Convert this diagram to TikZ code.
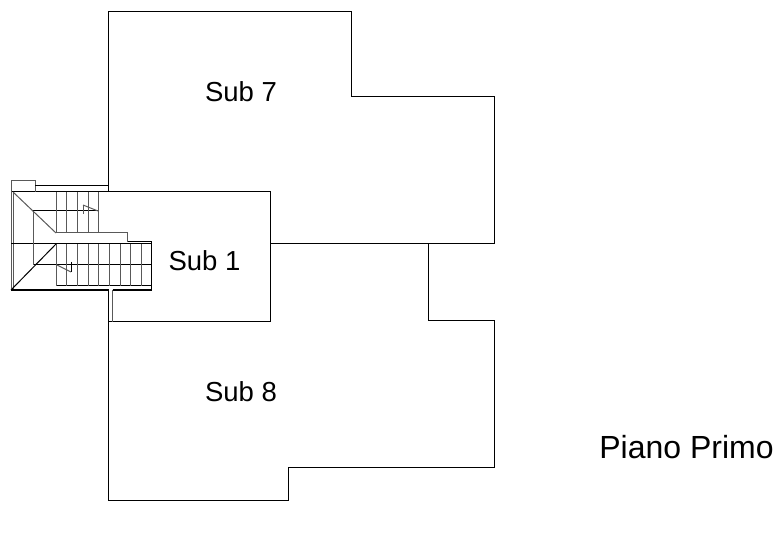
\documentclass[tikz,border=0pt]{standalone}
\usepackage{fontspec}
\setmainfont{Liberation Sans}
\tikzset{wall/.style={black,line width=1pt},
 thin line/.style={black!65,line width=1pt},
 sublabel/.style={font=\fontsize{27.5}{30}\selectfont,inner sep=0pt,anchor=base},
 titlelabel/.style={font=\fontsize{32}{34}\selectfont,inner sep=0pt,anchor=base}}
\begin{document}
\begin{tikzpicture}[x=1pt,y=-1pt]
\useasboundingbox (0,0) rectangle (778,534);
\draw[wall] (108.5,192) -- (108.5,11.5) -- (351.5,11.5) -- (351.5,96.5) -- (494.5,96.5) -- (494.5,243.5) -- (271,243.5);
\draw[wall] (428,243.5) -- (428,320.5) -- (494.5,320.5) -- (494.5,467.5) -- (288,467.5) -- (288,500.5) -- (108.5,500.5) -- (108.5,290);
\draw[wall] (11,192) -- (270.5,192) -- (270.5,321.5) -- (108.5,321.5);
\draw[thin line] (112.5,290) -- (112.5,321.5);
% stair
\draw[thin line] (11,192) -- (11,181) -- (35,181) -- (35,192);
\draw[wall] (35,186) -- (108.5,186);
\draw[thin line] (11,192) -- (11,290);
\draw[thin line] (13.5,192) -- (13.5,290);
\draw[wall] (11,290) -- (108.5,290);
\draw[wall] (112.5,290) -- (151,290) -- (151,242) -- (127,242);
\draw[wall] (56,286) -- (151,286);
\draw[thin line] (56,233) -- (127,233) -- (127,242);
\draw[wall] (11,244) -- (151,244);
\draw[wall] (33,211) -- (98.5,211);
\draw[wall] (33.5,265) -- (151,265);
\draw[thin line] (33.5,211) -- (33.5,265);
\foreach \x in {56,66.5,77.5,88,98.5}{
 \draw[thin line] (\x,192) -- (\x,233);
 \draw[thin line] (\x,244) -- (\x,286);}
\foreach \x in {109,120,130,141}{\draw[thin line] (\x,244) -- (\x,286);}
\draw[thin line] (13,192) -- (56,233);
\draw[wall] (11,290) -- (56,244);
\draw[thin line] (83,205) -- (83,214);
\draw[thin line] (83,205) -- (98,211);
\draw[wall] (71,262) -- (71,272);
\draw[thin line] (57,265) -- (71,272);
\node[sublabel] (s7) at (241,102) {Sub 7};
\node[sublabel] (s1) at (204.5,271) {Sub 1};
\node[sublabel] (s8) at (241,401) {Sub 8};
\node[titlelabel] (pp) at (686.5,458) {Piano Primo};
\end{tikzpicture}
\end{document}
